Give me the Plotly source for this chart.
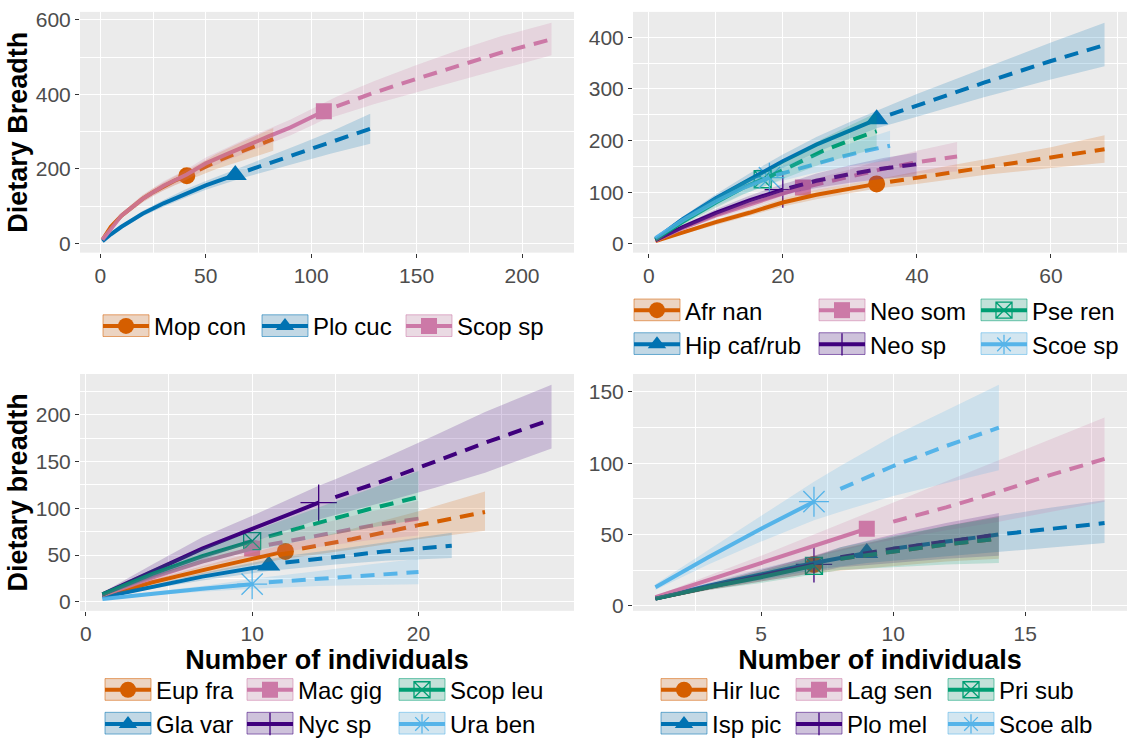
import plotly.graph_objects as go

W, H = 1129, 751
FONT = "Liberation Sans, Arial, sans-serif"

# ---------------- data ----------------
# Panel A (top-left)
A_NAMES = ["Mop con", "Plo cuc", "Scop sp"]
A_NOBS = [41, 64, 106]
A_SOBS = [182, 184, 355]
A_X = [
    [1, 5, 10, 15, 20, 25, 30, 35, 41, 47, 55, 65, 75, 82],
    [1, 5, 10, 20, 30, 40, 50, 64, 70, 80, 96, 110, 128],
    [1, 10, 20, 30, 41, 50, 60, 70, 80, 90, 100, 106, 112, 130, 150, 170, 190, 214],
]
A_Y = [
    [10, 45, 75, 98, 120, 138, 153, 168, 182, 198, 220, 243, 264, 280],
    [6, 25, 45, 80, 108, 133, 156, 184, 196, 215, 245, 272, 308],
    [10, 75, 120, 155, 185, 215, 240, 265, 288, 311, 338, 355, 368, 405, 442, 478, 512, 548],
]
A_LO = [
    [8, 40, 68, 90, 111, 128, 142, 156, 169, 182, 200, 219, 236, 249],
    [5, 22, 40, 73, 99, 122, 144, 170, 180, 196, 221, 242, 268],
    [8, 68, 110, 143, 171, 199, 223, 246, 268, 290, 316, 332, 342, 374, 405, 437, 468, 505],
]
A_HI = [
    [12, 50, 82, 106, 129, 148, 164, 180, 195, 214, 240, 267, 292, 310],
    [7, 28, 50, 87, 117, 144, 168, 198, 212, 234, 270, 302, 348],
    [12, 82, 130, 167, 199, 231, 257, 284, 308, 332, 360, 378, 394, 436, 479, 519, 556, 592],
]

# Panel B (top-right)
B_NAMES = ["Afr nan", "Hip caf/rub", "Neo som", "Neo sp", "Pse ren", "Scoe sp"]
B_NOBS = [34, 34, 23, 20, 17, 18]
B_SOBS = [116, 241, 109, 105, 125, 128]
B_X = [
    [1, 5, 10, 15, 20, 25, 30, 34, 36, 40, 50, 60, 68],
    [1, 5, 10, 15, 20, 25, 30, 34, 36, 40, 50, 60, 68],
    [1, 5, 10, 15, 20, 23, 24, 30, 35, 40, 46],
    [1, 5, 10, 15, 20, 21, 25, 30, 35, 40],
    [1, 5, 10, 14, 17, 18, 22, 26, 30, 34],
    [1, 5, 10, 14, 18, 19, 24, 28, 32, 36],
]
B_Y = [
    [5, 22, 42, 60, 80, 95, 107, 116, 120, 128, 148, 167, 183],
    [9, 47, 88, 125, 160, 192, 220, 241, 250, 268, 312, 354, 385],
    [6, 30, 55, 77, 97, 109, 112, 130, 145, 158, 169],
    [7, 32, 60, 84, 105, 108, 122, 135, 146, 154],
    [8, 42, 80, 108, 125, 130, 155, 180, 200, 218],
    [11, 45, 82, 108, 128, 133, 152, 166, 179, 190],
]
B_LO = [
    [4, 19, 37, 54, 72, 86, 98, 107, 110, 116, 133, 147, 157],
    [7, 42, 80, 114, 147, 177, 204, 224, 231, 246, 284, 318, 344],
    [5, 26, 49, 69, 88, 99, 101, 116, 127, 136, 140],
    [6, 28, 53, 75, 94, 97, 108, 118, 126, 131],
    [6, 36, 70, 95, 111, 115, 136, 156, 171, 184],
    [9, 39, 73, 96, 115, 119, 135, 146, 155, 161],
]
B_HI = [
    [6, 25, 47, 66, 88, 104, 116, 125, 130, 140, 163, 187, 210],
    [11, 52, 96, 136, 173, 207, 236, 258, 269, 290, 340, 390, 428],
    [7, 34, 61, 85, 106, 119, 123, 144, 163, 180, 197],
    [8, 36, 67, 93, 116, 119, 136, 152, 166, 177],
    [10, 48, 90, 121, 139, 145, 174, 204, 229, 254],
    [13, 51, 91, 120, 141, 147, 169, 186, 203, 219],
]

# Panel C (bottom-left)
C_NAMES = ["Eup fra", "Gla var", "Mac gig", "Nyc sp", "Scop leu", "Ura ben"]
C_NOBS = [12, 11, 10, 14, 10, 10]
C_SOBS = [54, 39, 57, 106, 65, 19]
C_X = [
    [1, 4, 8, 12, 13, 16, 20, 24],
    [1, 4, 7, 11, 12, 15, 18, 22],
    [1, 4, 7, 10, 11, 14, 17, 20],
    [1, 4, 7, 10, 14, 15, 18, 21, 24, 28],
    [1, 4, 7, 10, 11, 14, 17, 20],
    [1, 4, 7, 10, 11, 14, 17, 20],
]
C_Y = [
    [6, 21, 38, 54, 57, 67, 82, 96],
    [5, 16, 27, 39, 42, 48, 54, 60],
    [7, 26, 43, 57, 61, 71, 81, 89],
    [8, 33, 57, 78, 106, 112, 130, 150, 170, 195],
    [8, 30, 49, 65, 70, 85, 99, 112],
    [3, 9, 14, 19, 21, 25, 29, 32],
]
C_LO = [
    [5, 18, 33, 46, 49, 56, 67, 76],
    [4, 14, 23, 33, 35, 40, 44, 47],
    [6, 22, 37, 49, 52, 59, 66, 71],
    [6, 26, 45, 64, 88, 93, 107, 122, 138, 164],
    [6, 25, 41, 55, 58, 69, 79, 88],
    [2, 7, 11, 14, 15, 17, 18, 19],
]
C_HI = [
    [7, 24, 43, 62, 65, 78, 97, 118],
    [6, 18, 31, 45, 49, 56, 64, 74],
    [8, 30, 49, 65, 70, 83, 96, 108],
    [10, 40, 69, 92, 124, 131, 154, 178, 203, 232],
    [10, 35, 57, 75, 82, 101, 120, 140],
    [4, 11, 17, 24, 27, 33, 40, 46],
]

# Panel D (bottom-right)
D_NAMES = ["Hir luc", "Isp pic", "Lag sen", "Plo mel", "Pri sub", "Scoe alb"]
D_NOBS = [7, 9, 9, 7, 7, 7]
D_SOBS = [29, 37, 54, 29, 28, 73]
D_X = [
    [1, 3, 5, 7, 8, 10, 12, 14],
    [1, 3, 5, 7, 9, 10, 12, 14, 16, 18],
    [1, 3, 5, 7, 9, 10, 12, 14, 16, 18],
    [1, 3, 5, 7, 8, 10, 12, 14],
    [1, 3, 5, 7, 8, 10, 12, 14],
    [1, 3, 5, 7, 8, 10, 12, 14],
]
D_Y = [
    [5, 13, 21, 29, 33, 38, 43, 47],
    [5, 14, 22, 30, 37, 40, 45, 50, 54, 58],
    [6, 18, 30, 42, 54, 59, 69, 80, 92, 103],
    [5, 13, 21, 29, 34, 40, 45, 50],
    [5, 13, 20, 28, 33, 38, 43, 47],
    [13, 34, 54, 73, 82, 98, 112, 125],
]
D_LO = [
    [4, 11, 17, 23, 25, 28, 31, 33],
    [4, 12, 18, 25, 30, 32, 35, 38, 41, 44],
    [5, 15, 25, 34, 43, 46, 53, 59, 66, 73],
    [4, 11, 17, 23, 27, 30, 33, 35],
    [4, 11, 16, 22, 25, 27, 29, 30],
    [11, 29, 45, 60, 66, 77, 86, 95],
]
D_HI = [
    [6, 15, 25, 35, 40, 48, 56, 63],
    [6, 16, 26, 35, 44, 48, 56, 63, 69, 74],
    [7, 21, 35, 50, 65, 72, 87, 102, 117, 132],
    [6, 15, 25, 35, 41, 50, 58, 65],
    [6, 15, 24, 34, 41, 49, 56, 62],
    [15, 39, 63, 87, 98, 119, 137, 155],
]

Y_TITLES = ["Dietary Breadth", None, "Dietary breadth", None]
X_TITLES = [None, None, "Number of individuals", "Number of individuals"]
X_DTICK = [50, 20, 10, 5]
Y_DTICK = [200, 100, 50, 50]

# ---------------- styles / layout geometry ----------------
COLORS = ["#D55E00", "#0072B2", "#CC79A7", "#3F007D", "#009E73", "#56B4E9"]
SYMBOLS = ["circle", "triangle-up", "square", "cross-thin", "square-x-open", "asterisk"]
MSIZES = [17, 20, 16, 26, 17, 25]
COL_PX = [(80, 574), (633, 1127)]
ROW_PX = [(8, 252), (375, 615)]
PANEL_POS = [(0, 0), (1, 0), (0, 1), (1, 1)]  # (col,row)
LEG_FONT = 24
LEG_BOX_X = [[103, 262, 406], [634, 819, 981], [105, 247, 399], [661, 796, 948]]
LEG_ROW1_Y = [326, 310, 706, 706]

PANELS = [
    (A_NAMES, A_NOBS, A_SOBS, A_X, A_Y, A_LO, A_HI),
    (B_NAMES, B_NOBS, B_SOBS, B_X, B_Y, B_LO, B_HI),
    (C_NAMES, C_NOBS, C_SOBS, C_X, C_Y, C_LO, C_HI),
    (D_NAMES, D_NOBS, D_SOBS, D_X, D_Y, D_LO, D_HI),
]


def rgba(h, a):
    h = h.lstrip("#")
    r, g, b = int(h[0:2], 16), int(h[2:4], 16), int(h[4:6], 16)
    return f"rgba({r},{g},{b},{a})"


def blend(h, a, bg=242):
    h = h.lstrip("#")
    r, g, b = int(h[0:2], 16), int(h[2:4], 16), int(h[4:6], 16)
    f = lambda c: int(round(a * c + (1 - a) * bg))
    return f"rgb({f(r)},{f(g)},{f(b)})"


def legend_key(i):
    return "legend" if i == 1 else f"legend{i}"


fig = go.Figure()
layout = dict(
    width=W, height=H, margin=dict(l=0, r=0, t=0, b=0),
    paper_bgcolor="white", plot_bgcolor="#EBEBEB",
    font=dict(family=FONT, color="black"),
    hovermode=False,
)
shapes = []
item_h = 1.3 * LEG_FONT + 3

for p, (names, nobs, sobs, xs, ys, los, his) in enumerate(PANELS):
    col, row = PANEL_POS[p]
    xr = "x" if p == 0 else f"x{p + 1}"
    yr = "y" if p == 0 else f"y{p + 1}"
    # ranges with ggplot-like 5% expansion
    allx = [v for xx in xs for v in xx]
    ally = [v for yy in los + his for v in yy]
    sx = max(allx) - min(allx)
    sy = max(ally) - min(ally)
    xrange = [min(allx) - 0.05 * sx, max(allx) + 0.05 * sx]
    yrange = [min(ally) - 0.05 * sy, max(ally) + 0.05 * sy]

    # legend ids
    leg_ids = []
    for i in range(len(names)):
        if p == 0:
            leg_ids.append(1 + i)
        else:
            leg_ids.append(4 + 3 * (p - 1) + i // 2)

    # observed points (also legend entries)
    for i, nm in enumerate(names):
        c = COLORS[i]
        mk = dict(symbol=SYMBOLS[i], size=MSIZES[i], color=c,
                  line=dict(color=c, width=1.3 if i >= 3 else 0))
        fig.add_trace(go.Scatter(
            x=[nobs[i]], y=[sobs[i]], mode="lines+markers", name=nm,
            line=dict(color=c, width=4), marker=mk,
            xaxis=xr, yaxis=yr, legend=legend_key(leg_ids[i]), showlegend=True))
    # rarefaction (solid) and extrapolation (dashed)
    for i, nm in enumerate(names):
        c = COLORS[i]
        rx = [a for a in xs[i] if a <= nobs[i]]
        ry = [b for a, b in zip(xs[i], ys[i]) if a <= nobs[i]]
        ex = [a for a in xs[i] if a > nobs[i]]
        ey = [b for a, b in zip(xs[i], ys[i]) if a > nobs[i]]
        fig.add_trace(go.Scatter(x=rx, y=ry, mode="lines", line=dict(color=c, width=4),
                                 xaxis=xr, yaxis=yr, showlegend=False))
        fig.add_trace(go.Scatter(x=ex, y=ey, mode="lines",
                                 line=dict(color=c, width=4, dash="14px,9px"),
                                 xaxis=xr, yaxis=yr, showlegend=False))
    # confidence ribbons (on top, as in ggiNEXT)
    for i, nm in enumerate(names):
        c = COLORS[i]
        fig.add_trace(go.Scatter(
            x=xs[i] + xs[i][::-1], y=his[i] + los[i][::-1], fill="toself",
            fillcolor=rgba(c, 0.2), mode="lines", line=dict(width=0, color=rgba(c, 0)),
            xaxis=xr, yaxis=yr, showlegend=False))

    x0, x1 = COL_PX[col]
    y0, y1 = ROW_PX[row]
    xa = dict(
        domain=[x0 / W, x1 / W], range=xrange, anchor=yr, tick0=0, dtick=X_DTICK[p],
        showgrid=True, gridcolor="white", gridwidth=1.3, zeroline=False, showline=False,
        ticks="outside", ticklen=4, tickwidth=1, tickcolor="#333333",
        tickfont=dict(size=21, color="#4D4D4D", family=FONT),
        minor=dict(dtick=X_DTICK[p] / 2, tick0=0, showgrid=True, gridcolor="white", gridwidth=0.6, ticks=""),
    )
    ya = dict(
        domain=[1 - y1 / H, 1 - y0 / H], range=yrange, anchor=xr, tick0=0, dtick=Y_DTICK[p],
        showgrid=True, gridcolor="white", gridwidth=1.3, zeroline=False, showline=False,
        ticks="outside", ticklen=4, tickwidth=1, tickcolor="#333333",
        tickfont=dict(size=21, color="#4D4D4D", family=FONT),
        minor=dict(dtick=Y_DTICK[p] / 2, tick0=0, showgrid=True, gridcolor="white", gridwidth=0.6, ticks=""),
    )
    if X_TITLES[p]:
        xa["title"] = dict(text=f"<b>{X_TITLES[p]}</b>", font=dict(size=27, color="black", family=FONT), standoff=1)
    if Y_TITLES[p]:
        ya["title"] = dict(text=f"<b>{Y_TITLES[p]}</b>", font=dict(size=27, color="black", family=FONT), standoff=0)
    layout["xaxis" if p == 0 else f"xaxis{p + 1}"] = xa
    layout["yaxis" if p == 0 else f"yaxis{p + 1}"] = ya

    # legends: one vertical legend per legend column
    ncols = 3
    for cidx in range(ncols):
        members = [i for i in range(len(names)) if (i == cidx if p == 0 else i // 2 == cidx)]
        lid = leg_ids[members[0]]
        n_items = len(members)
        top = LEG_ROW1_Y[p] - (5 + item_h / 2)
        top = min(top, H - (n_items * item_h + 10))
        bx = LEG_BOX_X[p][cidx]
        layout[legend_key(lid)] = dict(
            x=(bx - 5) / W, xanchor="left", y=1 - top / H, yanchor="top",
            orientation="v", bgcolor="rgba(0,0,0,0)", borderwidth=0,
            font=dict(size=LEG_FONT, color="black", family=FONT),
            itemwidth=46, tracegroupgap=0, itemclick=False, itemdoubleclick=False,
        )
        for k, i in enumerate(members):
            cy = top + 5 + item_h / 2 + k * item_h
            shapes.append(dict(
                type="rect", xref="paper", yref="paper",
                x0=bx / W, x1=(bx + 46) / W, y0=1 - (cy + 11) / H, y1=1 - (cy - 11) / H,
                fillcolor=blend(COLORS[i], 0.2), line=dict(color=rgba(COLORS[i], 0.55), width=1),
                layer="above"))

layout["shapes"] = shapes
fig.update_layout(**layout)
fig.write_html("out.html")
